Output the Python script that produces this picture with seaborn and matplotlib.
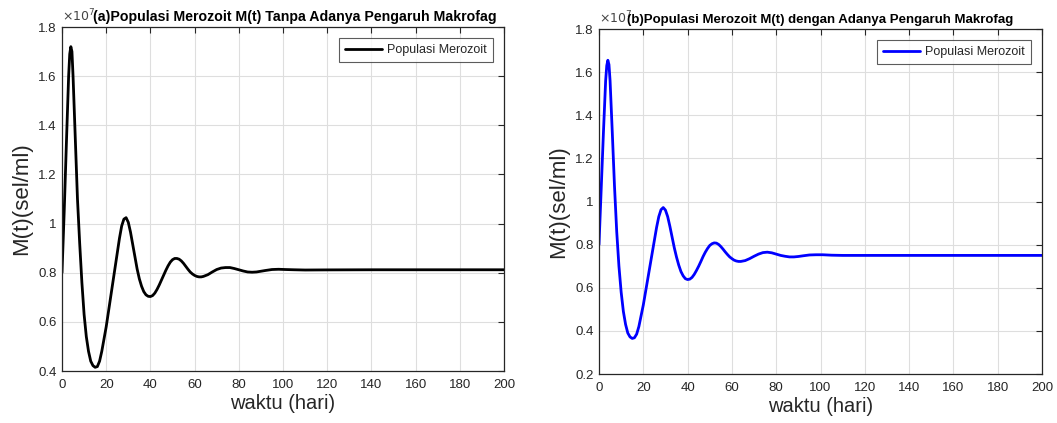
import numpy as np
import pandas as pd
import matplotlib
matplotlib.use("Agg")
import matplotlib.pyplot as plt
import seaborn as sns

# ---- data (values in units of 1e7 sel/ml) ----
t_a = [0, 1, 2, 3, 3.5, 4, 4.5, 5, 6, 7, 8, 9, 10, 11, 12, 13, 14, 15, 16, 17, 18, 19,
       20, 21, 22, 23, 24, 25, 26, 27, 28, 29, 30, 31, 32, 33, 34, 35, 36, 37, 38, 39,
       40, 41, 42, 43, 44, 45, 46, 47, 48, 49, 50, 51, 52, 53, 54, 55, 56, 57, 58, 59,
       60, 61, 62, 63, 64, 66, 68, 70, 72, 74, 76, 78, 80, 82, 84, 86, 88, 90, 92, 95,
       98, 101, 105, 110, 120, 140, 160, 180, 200]
m_a = [0.80, 1.05, 1.33, 1.60, 1.69, 1.72, 1.70, 1.60, 1.35, 1.10, 0.92, 0.76, 0.63, 0.54,
       0.48, 0.44, 0.422, 0.415, 0.418, 0.44, 0.48, 0.53, 0.58, 0.64, 0.70, 0.76, 0.82,
       0.88, 0.94, 0.99, 1.018, 1.024, 1.005, 0.965, 0.915, 0.865, 0.815, 0.775, 0.745,
       0.723, 0.71, 0.704, 0.703, 0.707, 0.717, 0.732, 0.75, 0.77, 0.79, 0.81, 0.828,
       0.843, 0.853, 0.858, 0.858, 0.855, 0.848, 0.838, 0.826, 0.814, 0.803, 0.795,
       0.789, 0.785, 0.783, 0.783, 0.785, 0.792, 0.803, 0.813, 0.819, 0.821, 0.821,
       0.817, 0.812, 0.807, 0.803, 0.802, 0.803, 0.806, 0.809, 0.813, 0.814, 0.813,
       0.812, 0.811, 0.8115, 0.812, 0.812, 0.812, 0.812]

t_b = [0, 1, 2, 3, 3.5, 4, 4.5, 5, 6, 7, 8, 9, 10, 11, 12, 13, 14, 15, 16, 17, 18, 19,
       20, 21, 22, 23, 24, 25, 26, 27, 28, 29, 30, 31, 32, 33, 34, 35, 36, 37, 38, 39,
       40, 41, 42, 43, 44, 45, 46, 47, 48, 49, 50, 51, 52, 53, 54, 55, 56, 57, 58, 59,
       60, 61, 62, 63, 64, 66, 68, 70, 72, 74, 76, 78, 80, 82, 84, 86, 88, 90, 92, 95,
       98, 101, 105, 110, 120, 140, 160, 180, 200]
m_b = [0.80, 1.06, 1.32, 1.56, 1.63, 1.655, 1.635, 1.56, 1.32, 1.07, 0.86, 0.70, 0.58,
       0.49, 0.43, 0.39, 0.372, 0.365, 0.368, 0.385, 0.42, 0.47, 0.52, 0.58, 0.64, 0.70,
       0.76, 0.82, 0.88, 0.93, 0.962, 0.972, 0.96, 0.93, 0.885, 0.835, 0.785, 0.742,
       0.705, 0.675, 0.655, 0.642, 0.638, 0.64, 0.648, 0.662, 0.68, 0.70, 0.722, 0.745,
       0.765, 0.782, 0.796, 0.804, 0.808, 0.807, 0.801, 0.791, 0.779, 0.766, 0.754,
       0.743, 0.735, 0.728, 0.724, 0.722, 0.722, 0.726, 0.735, 0.746, 0.756, 0.763,
       0.765, 0.762, 0.756, 0.75, 0.746, 0.743, 0.743, 0.745, 0.748, 0.752, 0.753,
       0.753, 0.751, 0.750, 0.750, 0.750, 0.750, 0.750, 0.750]

x_ticks = [0, 20, 40, 60, 80, 100, 120, 140, 160, 180, 200]
y_ticks_a = [0.4, 0.6, 0.8, 1.0, 1.2, 1.4, 1.6, 1.8]
y_ticks_b = [0.2, 0.4, 0.6, 0.8, 1.0, 1.2, 1.4, 1.6, 1.8]
y_labels_a = ["0.4", "0.6", "0.8", "1", "1.2", "1.4", "1.6", "1.8"]
y_labels_b = ["0.2", "0.4", "0.6", "0.8", "1", "1.2", "1.4", "1.6", "1.8"]

title_a = "(a)Populasi Merozoit M(t) Tanpa Adanya Pengaruh Makrofag"
title_b = "(b)Populasi Merozoit M(t) dengan Adanya Pengaruh Makrofag"
legend_label = "Populasi Merozoit"
xlabel = "waktu (hari)"
ylabel = "M(t)(sel/ml)"

sns.set_style("white")
plt.rcParams['font.family'] = ['Liberation Sans', 'DejaVu Sans']

fig = plt.figure(figsize=(10.57, 4.23), dpi=100)
ax1 = fig.add_axes([62/1057, 1-371/423, (504-62)/1057, (371-27)/423])
ax2 = fig.add_axes([599/1057, 1-374/423, (1042-599)/1057, (374-29)/423])

df_a = pd.DataFrame({"t": t_a, "M": m_a, "s": legend_label})
df_b = pd.DataFrame({"t": t_b, "M": m_b, "s": legend_label})

sns.lineplot(data=df_a, x="t", y="M", hue="s", palette=["black"], linewidth=2.0,
             ax=ax1, estimator=None, sort=False)
sns.lineplot(data=df_b, x="t", y="M", hue="s", palette=["#0000FF"], linewidth=2.0,
             ax=ax2, estimator=None, sort=False)

grid_c = "#dedede"
tick_c = "#262626"
for ax, yt, yl, ylim, title, tx, tfs in [
        (ax1, y_ticks_a, y_labels_a, (0.4, 1.8), title_a, 0.070, 10.2),
        (ax2, y_ticks_b, y_labels_b, (0.2, 1.8), title_b, 0.063, 9.5)]:
    ax.set_xlim(0, 200)
    ax.set_ylim(*ylim)
    ax.set_xticks(x_ticks)
    ax.set_xticklabels([str(v) for v in x_ticks])
    ax.set_yticks(yt)
    ax.set_yticklabels(yl)
    ax.grid(True, color=grid_c, linewidth=0.8)
    ax.set_axisbelow(True)
    ax.tick_params(direction="in", length=4, width=0.8, colors=tick_c,
                   labelsize=9.5, top=True, right=True, pad=4)
    ax.tick_params(axis="x", pad=6)
    for sp in ax.spines.values():
        sp.set_visible(True)
        sp.set_color(tick_c)
        sp.set_linewidth(0.9)
    ax.set_xlabel(xlabel, fontsize=14.5, color=tick_c, labelpad=2)
    ax.set_ylabel(ylabel, fontsize=16, color=tick_c, labelpad=4)
    ax.text(0.0, 1.008, r"$\times10^{7}$", transform=ax.transAxes, fontsize=9,
            color="#444444", ha="left", va="bottom")
    ax.text(tx, 1.008, title, transform=ax.transAxes, fontsize=tfs,
            fontweight="bold", color="black", ha="left", va="bottom")
    leg = ax.legend(loc="upper right", fontsize=9, frameon=True, fancybox=False,
                    handlelength=3.0, borderpad=0.45, borderaxespad=0.9,
                    handletextpad=0.4)
    leg.get_frame().set_edgecolor("#333333")
    leg.get_frame().set_linewidth(0.8)
    leg.set_title(None)

fig.savefig("out.png", dpi=100, facecolor="white")
